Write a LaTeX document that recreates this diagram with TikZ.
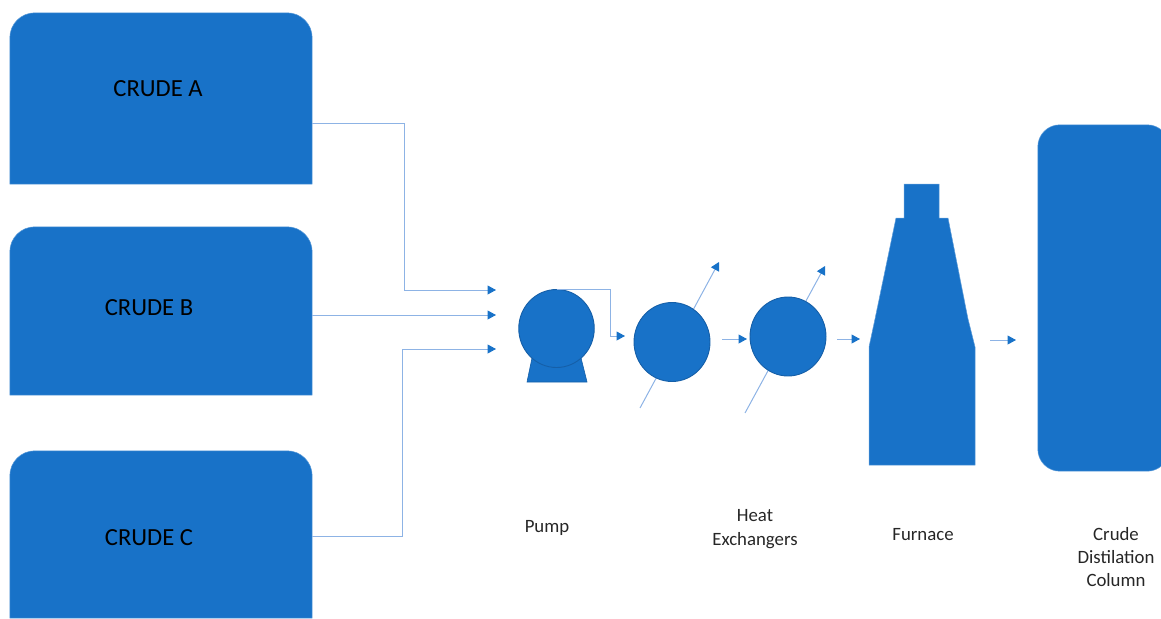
\documentclass[tikz,border=0pt]{standalone}
\usepackage{fontspec}
\setmainfont{Carlito}
\definecolor{fillblue}{HTML}{1872C8}
\definecolor{edgeblue}{HTML}{155FA8}
\definecolor{lineblue}{HTML}{8DB3E5}
\usetikzlibrary{arrows.meta,shapes.geometric}
\tikzset{
  x=1pt,y=-1pt,
  solid shape/.style={fill=fillblue,draw=fillblue!70!white,line width=.5pt},
  round shape/.style={ellipse,inner sep=0pt,fill=fillblue,draw=edgeblue,line width=.9pt},
  pipe/.style={draw=lineblue,line width=1pt},
  flow/.style={pipe,-{Triangle[length=8.5pt,width=9pt,color=fillblue]}},
  box anchor/.style={rectangle,inner sep=0pt,draw=none},
  tank text/.style={font=\fontsize{24.6}{26}\selectfont,text=black,inner sep=0pt},
  caption/.style={font=\fontsize{18.8}{23.4}\selectfont,align=center,text=black!85,inner sep=0pt},
}
\begin{document}
\begin{tikzpicture}
\useasboundingbox (0,0) rectangle (1161,618);
% tanks
\node[box anchor,minimum width=302pt,minimum height=171pt] (ta) at (161,98.5) {};
\node[box anchor,minimum width=302pt,minimum height=168pt] (tb) at (161,311) {};
\node[box anchor,minimum width=302pt,minimum height=167pt] (tc) at (161,534.5) {};
\foreach \t in {ta,tb,tc}
  \path[solid shape] (\t.south west) [rounded corners=25pt] -- (\t.north west) -- (\t.north east) [sharp corners] -- (\t.south east) -- cycle;
\node[tank text] (la) at (158,88.5) {CRUDE A};
\node[tank text] (lb) at (149,307.5) {CRUDE B};
\node[tank text] (lc) at (149,537.5) {CRUDE C};
% junction targets
\coordinate (ia) at (496,290);
\coordinate (ib) at (496,315);
\coordinate (ic) at (496,349);
\coordinate (oa) at (312,123);
\coordinate (ob) at (312,315);
\coordinate (oc) at (312,536);
\coordinate (ma) at (404,123);
\coordinate (mc) at (402,536);
\draw[flow] (oa) -- (ma) |- (ia);
\draw[flow] (ob) -- (ib);
\draw[flow] (oc) -- (mc) |- (ic);
% heat exchanger service lines (behind the circles)
\coordinate (h1in) at (640,408);
\coordinate (h1out) at (719,262);
\coordinate (h2in) at (745,413);
\coordinate (h2out) at (825,266);
\draw[flow] (h1in) -- (h1out);
\draw[flow] (h2in) -- (h2out);
% pump
\path[fill=fillblue,draw=edgeblue,line width=.6pt] (532,358) -- (527,382) -- (587,382) -- (581,358) -- cycle;
\node[round shape,minimum width=75.5pt,minimum height=78pt] (pump) at (556.5,328.5) {};
% heat exchangers
\node[round shape,minimum width=76pt,minimum height=79pt] (hx1) at (672,342) {};
\node[round shape,minimum width=76pt,minimum height=79pt] (hx2) at (788,336.5) {};
% furnace
\coordinate (fa) at (869,347);
\coordinate (fb) at (975,347);
\path[solid shape] (869,465) -- (fa) -- (875,319) -- (896,218) -- (904,218) -- (904,184) -- (939,184) -- (939,218) -- (948,218) -- (968,319) -- (fb) -- (975,465) -- cycle;
% column
\node[box anchor,minimum width=131pt,minimum height=346pt] (col) at (1103.5,298) {};
\path[solid shape,rounded corners=22pt] (col.south west) rectangle (col.north east);
% pump to exchanger
\coordinate (pd) at (610,336);
\coordinate (pe) at (625,336);
\draw[flow] (pump.north) -- (pd |- pump.north) -- (pd) -- (pe);
% inline arrows
\coordinate (s1) at (722,339);
\coordinate (e1) at (747,339);
\coordinate (s2) at (837,339);
\coordinate (e2) at (860,339);
\coordinate (s3) at (990,340);
\coordinate (e3) at (1016,340);
\draw[flow] (s1) -- (e1);
\draw[flow] (s2) -- (e2);
\draw[flow] (s3) -- (e3);
% captions
\node[caption] (cp) at (547,527.5) {Pump};
\node[caption] (ch) at (755,529) {Heat\\Exchangers};
\node[caption] (cf) at (923,535) {Furnace};
\node[caption] (cc) at (1116,557) {Crude\\Distilation\\Column};
\end{tikzpicture}
\end{document}
